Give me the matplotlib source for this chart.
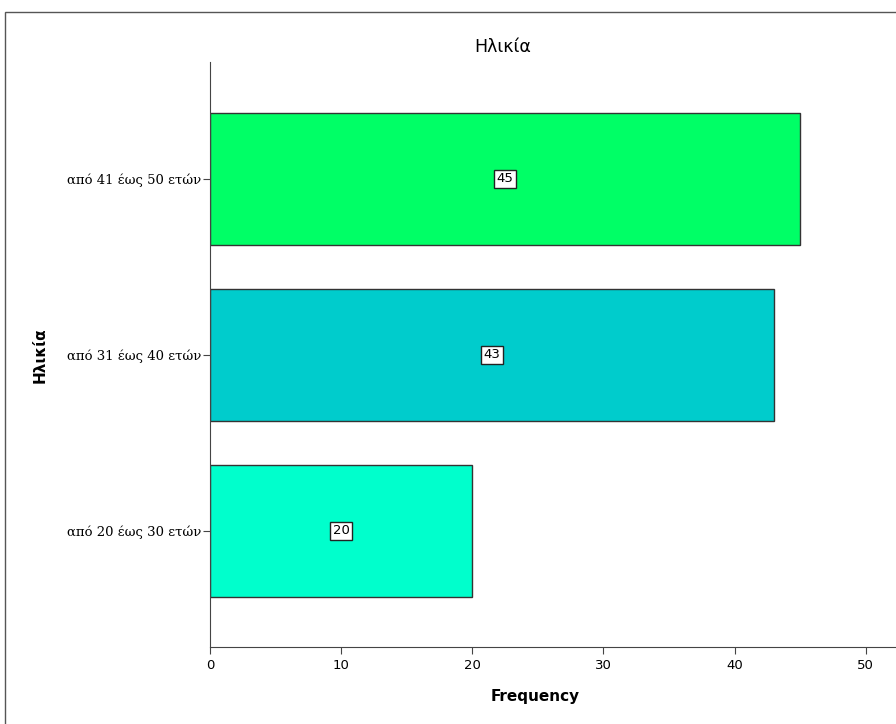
import matplotlib.pyplot as plt
from matplotlib.patches import Rectangle

categories = ['από 20 έως 30 ετών', 'από 31 έως 40 ετών', 'από 41 έως 50 ετών']
values = [20, 43, 45]
colors = ['#00FFCC', '#00CCCC', '#00FF66']
xticks = [0, 10, 20, 30, 40, 50]


def main():
    fig = plt.figure(figsize=(8.96, 7.24), dpi=100)
    # outer frame like the SPSS chart area
    fig.patches.append(Rectangle((5 / 896, -0.02), 1.2, (724 - 12) / 724 + 0.02,
                                 transform=fig.transFigure, fill=False,
                                 edgecolor='#555555', linewidth=1.0))
    ax = fig.add_axes([210 / 896, 77 / 724, 1 - 210 / 896, (647 - 62) / 724])

    pos = list(range(len(categories)))
    ax.barh(pos, values, height=0.75, color=colors, edgecolor='#333333', linewidth=1.0)
    for p, v in zip(pos, values):
        ax.text(v / 2, p, str(v), ha='center', va='center', fontsize=9.5,
                bbox=dict(boxstyle='square,pad=0.2', facecolor='white',
                          edgecolor='#222222', linewidth=1.0))

    ax.set_xlim(0, 52.3)
    ax.set_ylim(-0.66, 2.665)
    ax.set_xticks(xticks)
    ax.set_yticks(pos)
    ax.set_yticklabels(categories, fontsize=9.5, family='DejaVu Serif')
    ax.tick_params(axis='x', labelsize=9.5, length=5, color='#444444')
    ax.tick_params(axis='y', length=5, pad=1, color='#444444')
    for s in ['top', 'right']:
        ax.spines[s].set_visible(False)
    ax.spines['left'].set_color('#444444')
    ax.spines['bottom'].set_color('#444444')

    fig.text(503 / 896, 1 - 47 / 724, 'Ηλικία', ha='center', va='center', fontsize=12.5)
    fig.text(40 / 896, 1 - 355 / 724, 'Ηλικία', ha='center', va='center', rotation=90,
             fontsize=11, fontweight='bold')
    fig.text(535 / 896, 1 - 697 / 724, 'Frequency', ha='center', va='center',
             fontsize=11, fontweight='bold')

    fig.savefig('out.png', dpi=100)


if __name__ == '__main__':
    main()
